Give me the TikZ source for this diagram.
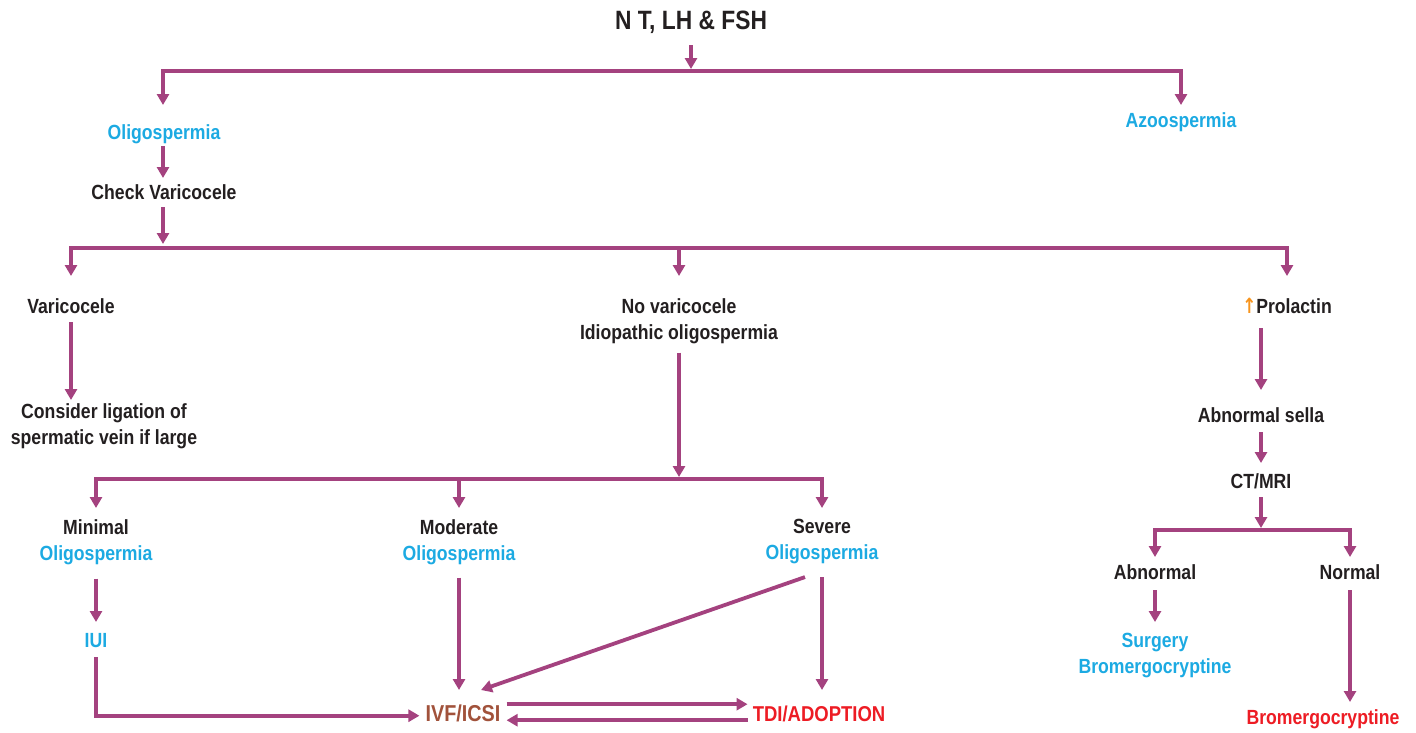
\documentclass[tikz,border=0pt]{standalone}
\usepackage{fontspec}
\setmainfont{Liberation Sans}[FakeStretch=0.86]
\newfontfamily\symf{DejaVu Sans}[FakeStretch=0.8]
\usetikzlibrary{arrows.meta}
\definecolor{pur}{HTML}{A4427F}
\definecolor{cblue}{HTML}{1CAAE2}
\definecolor{cbrown}{HTML}{A1523B}
\definecolor{cred}{HTML}{ED1C24}
\definecolor{ink}{HTML}{231F20}
\definecolor{corange}{HTML}{F7941D}
\tikzset{
  lbl/.style={font=\fontsize{20.5}{26}\selectfont\bfseries, text=ink, inner sep=3pt,
    text height=15pt, text depth=4pt, anchor=north},
  lbl2/.style={font=\fontsize{20.5}{26}\selectfont\bfseries, text=ink, inner sep=3pt,
    align=center, anchor=north},
  con/.style={draw=pur, line width=3.8pt},
  arr/.style={con, -{Triangle[length=11pt,width=12pt]}},
  arrb/.style={con, {Triangle[length=11pt,width=12pt]}-{Triangle[length=11pt,width=12pt]}},
}
\begin{document}
\begin{tikzpicture}[x=1pt,y=-1pt]
\useasboundingbox (0,0) rectangle (1416,732);
% nodes
\node[font=\fontsize{26.5}{30}\selectfont\bfseries, text=ink, inner sep=3pt, text height=19pt, text depth=5pt, anchor=north] (title) at (691,7) {N T, LH \& FSH};
\node[lbl, text=cblue] (oligo) at (164,121) {Oligospermia};
\node[lbl, text=cblue] (azoo) at (1181,109) {Azoospermia};
\node[lbl] (check) at (164,181) {Check Varicocele};
\node[lbl] (vari) at (71,295) {Varicocele};
\node[lbl2] (novari) at (679,295) {No varicocele\\Idiopathic oligospermia};
\node[lbl] (prol) at (1287,295) {\textcolor{corange}{\symf\bfseries\fontsize{21}{20}\selectfont↑}Prolactin};
\node[lbl2] (consider) at (104,400) {Consider ligation of\\spermatic vein if large};
\node[lbl] (sella) at (1261,404) {Abnormal sella};
\node[lbl] (ctmri) at (1261,470) {CT/MRI};
\node[lbl2] (minimal) at (96,516) {Minimal\\\textcolor{cblue}{Oligospermia}};
\node[lbl2] (moderate) at (459,516) {Moderate\\\textcolor{cblue}{Oligospermia}};
\node[lbl2] (severe) at (822,516) {Severe\\\textcolor{cblue}{Oligospermia}};
\node[lbl, text=cblue] (iui) at (96,629) {IUI};
\node[lbl, text=cbrown, font=\fontsize{23}{26}\selectfont\bfseries] (ivf) at (463,703) {IVF/ICSI};
\node[lbl, text=cred, font=\fontsize{21.5}{26}\selectfont\bfseries] (tdi) at (819,703) {TDI/ADOPTION};
\node[lbl] (abn) at (1155,561) {Abnormal};
\node[lbl] (norm) at (1350,561) {Normal};
\node[lbl2, text=cblue] (surg) at (1155,630) {Surgery\\Bromergocryptine};
\node[lbl, text=cred] (bromo) at (1323,706) {Bromergocryptine};
% branch points
\coordinate (br1) at (691,71);
\coordinate (br2) at (163,248);
\coordinate (br3) at (679,479);
\coordinate (br4) at (1261,530);
% connectors
\draw[arr, shorten <=8pt, shorten >=2pt] (title.south) -- (br1);
\draw[arrb, shorten <=16pt, shorten >=4pt] (oligo.north -| br2) |- (br1) -| (azoo.north);
\draw[arr, shorten >=3pt] (oligo.south -| br2) -- (check.north -| br2);
\draw[arr, shorten <=1pt, shorten >=4pt] (check.south -| br2) -- (br2);
\draw[arrb, shorten <=19pt, shorten >=19pt] (vari.north) |- (br2) -| (prol.north);
\draw[arr, shorten >=19pt] (br2 -| novari.north) -- (novari.north);
\draw[arr, shorten <=2pt] (vari.south) -- (vari.south |- consider.north);
\draw[arr, shorten <=6pt, shorten >=2pt] (novari.south) -- (br3);
\draw[arr, shorten <=8pt, shorten >=14pt] (sella.north |- prol.south) -- (sella.north);
\draw[arr, shorten <=3pt, shorten >=7pt] (sella.south) -- (ctmri.north);
\draw[arr, shorten <=2pt, shorten >=2pt] (ctmri.south) -- (br4);
\draw[arrb, shorten <=8pt, shorten >=8pt] (minimal.north) |- (br3) -| (severe.north);
\draw[arr, shorten >=8pt] (br3 -| moderate.north) -- (moderate.north);
\draw[arr, shorten <=11pt, shorten >=7pt] (minimal.south) -- (iui.north);
\draw[arr, shorten <=10pt, shorten >=13pt] (moderate.south) -- (moderate.south |- ivf.north);
\draw[arr] ([xshift=-17pt,yshift=-10pt]severe.south) -- ([xshift=18pt,yshift=13pt]ivf.north);
\draw[arr, shorten <=10pt, shorten >=13pt] (severe.south) -- (severe.south |- tdi.north);
\draw[arr, shorten <=3pt, shorten >=3pt] (iui.south) |- (ivf.west);
\draw[arr, shorten <=3pt, shorten >=2pt] ([yshift=11.5pt]ivf.east) -- ([yshift=11.5pt]ivf.east -| tdi.west);
\draw[arr, shorten <=2pt, shorten >=3pt] ([yshift=-4.5pt]ivf.east -| tdi.west) -- ([yshift=-4.5pt]ivf.east);
\draw[arrb, shorten <=4pt, shorten >=4pt] (abn.north) |- (br4) -| (norm.north);
\draw[arr, shorten <=4pt, shorten >=8pt] (abn.south) -- (surg.north);
\draw[arr, shorten <=4pt, shorten >=4pt] (norm.south) -- (norm.south |- bromo.north);
\end{tikzpicture}
\end{document}
